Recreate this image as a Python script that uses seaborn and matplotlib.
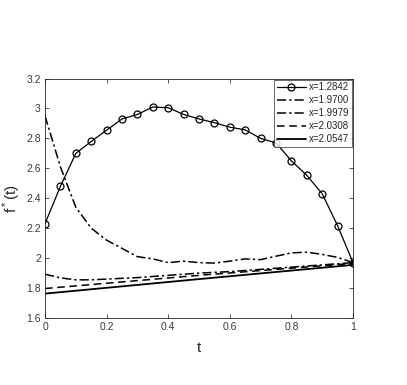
import numpy as np
import pandas as pd
import matplotlib
matplotlib.use('Agg')
import matplotlib.pyplot as plt
import seaborn as sns

# t grid for the curved series
t_grid = [0, 0.05, 0.1, 0.15, 0.2, 0.25, 0.3, 0.35, 0.4, 0.45, 0.5,
          0.55, 0.6, 0.65, 0.7, 0.75, 0.8, 0.85, 0.9, 0.95, 1.0]

f_12842 = [2.23, 2.48, 2.70, 2.78, 2.855, 2.93, 2.96, 3.01, 3.005, 2.96, 2.93,
           2.905, 2.875, 2.857, 2.80, 2.77, 2.65, 2.553, 2.43, 2.216, 1.97]
f_19700 = [2.95, 2.61, 2.34, 2.20, 2.12, 2.065, 2.01, 1.995, 1.97, 1.98, 1.97,
           1.967, 1.98, 1.995, 1.99, 2.013, 2.035, 2.04, 2.025, 2.005, 1.97]

t_19979 = [0, 0.05, 0.1, 0.15, 0.2, 0.3, 0.4, 0.5, 0.6, 0.7, 0.8, 0.9, 1.0]
f_19979 = [1.893, 1.868, 1.855, 1.855, 1.86, 1.87, 1.885, 1.90, 1.91, 1.925, 1.94, 1.955, 1.97]

t_20308 = [0, 0.5, 1.0]
f_20308 = [1.797, 1.885, 1.965]

t_20547 = [0, 0.5, 1.0]
f_20547 = [1.763, 1.86, 1.955]

labels = ['x=1.2842', 'x=1.9700', 'x=1.9979', 'x=2.0308', 'x=2.0547']

sns.set_theme(style='ticks')
plt.rcParams['font.family'] = ['Liberation Sans', 'DejaVu Sans']
plt.rcParams['mathtext.fontset'] = 'custom'
plt.rcParams['mathtext.rm'] = 'Liberation Sans'

fig = plt.figure(figsize=(4.07, 3.85), dpi=100)
ax = fig.add_axes([0.1106, 0.174, 0.7568, 0.622])

dashdot = (0, (6, 2, 1.5, 2))
sns.lineplot(x=t_grid, y=f_12842, ax=ax, color='black', lw=0.9, marker='o',
             markersize=5, markerfacecolor='none', markeredgecolor='black',
             markeredgewidth=0.9, label=labels[0])
sns.lineplot(x=t_grid, y=f_19700, ax=ax, color='black', lw=1.1, label=labels[1],
             linestyle=dashdot)
sns.lineplot(x=t_19979, y=f_19979, ax=ax, color='black', lw=1.1, label=labels[2],
             linestyle=dashdot)
sns.lineplot(x=t_20308, y=f_20308, ax=ax, color='black', lw=1.1, label=labels[3],
             linestyle=(0, (5, 3)))
sns.lineplot(x=t_20547, y=f_20547, ax=ax, color='black', lw=1.3, label=labels[4])

ax.set_xlim(0, 1)
ax.set_ylim(1.6, 3.2)
ax.set_xticks([0, 0.2, 0.4, 0.6, 0.8, 1])
ax.set_xticklabels(['0', '0.2', '0.4', '0.6', '0.8', '1'])
ax.set_yticks([1.6, 1.8, 2, 2.2, 2.4, 2.6, 2.8, 3, 3.2])
ax.set_yticklabels(['1.6', '1.8', '2', '2.2', '2.4', '2.6', '2.8', '3', '3.2'])
ax.tick_params(direction='in', length=3, width=0.6, labelsize=7.5,
               colors='#3a3a3a', top=True, right=True, pad=3)
for s in ax.spines.values():
    s.set_visible(True)
    s.set_linewidth(0.6)
    s.set_color('#262626')

ax.set_xlabel('t', fontsize=11, color='#262626', labelpad=6)
ax.set_ylabel('f$^*$(t)', fontsize=11, color='#262626', labelpad=2)

leg = ax.legend(loc='upper right', fontsize=7, frameon=True, fancybox=False,
                handlelength=3.0, handletextpad=0.3, borderpad=0.3,
                labelspacing=0.3, borderaxespad=0.1)
leg.get_frame().set_edgecolor('#262626')
leg.get_frame().set_linewidth(0.6)

fig.savefig('out.png', dpi=100)
